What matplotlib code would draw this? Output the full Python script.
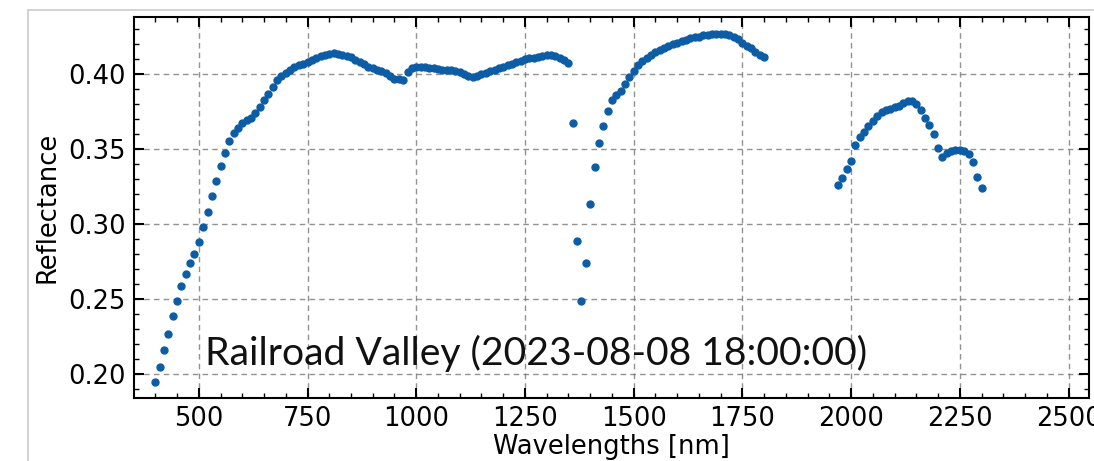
import numpy as np
import matplotlib
matplotlib.use("Agg")
import matplotlib.pyplot as plt
from matplotlib.lines import Line2D
from matplotlib.ticker import MultipleLocator

# Surface reflectance, 10 nm sampling (water-absorption bands omitted)
wl_vis_nir = np.arange(400, 1351, 10)
refl_vis_nir = [
    0.195, 0.205, 0.216, 0.227, 0.239, 0.249, 0.259, 0.267, 0.274, 0.280,
    0.288, 0.298, 0.308, 0.319, 0.329, 0.339, 0.3476, 0.3554, 0.3605, 0.3638,
    0.3671, 0.3693, 0.3705, 0.3738, 0.378, 0.3827, 0.387, 0.3915, 0.396, 0.399,
    0.401, 0.403, 0.4045, 0.406, 0.407, 0.408, 0.4095, 0.4105, 0.412, 0.4128,
    0.4133, 0.4137, 0.4135, 0.4128, 0.412, 0.4112, 0.4095, 0.408, 0.407, 0.405,
    0.404, 0.403, 0.402, 0.4005, 0.3985, 0.3965, 0.3964, 0.396, 0.4015, 0.4037,
    0.4045, 0.4048, 0.4045, 0.4042, 0.404, 0.4035, 0.403, 0.4027, 0.4025, 0.402,
    0.4015, 0.400, 0.399, 0.3982, 0.399, 0.400, 0.401, 0.402, 0.403, 0.404,
    0.405, 0.406, 0.407, 0.408, 0.409, 0.410, 0.4105, 0.411, 0.4115, 0.412,
    0.4125, 0.4126, 0.412, 0.411, 0.4095, 0.4073,
]

wl_swir1 = np.arange(1360, 1801, 10)
refl_swir1 = [
    0.3675, 0.289, 0.249, 0.274, 0.3134, 0.338, 0.3538, 0.3653, 0.3753, 0.3827,
    0.386, 0.389, 0.3935, 0.398, 0.402, 0.406, 0.409, 0.411, 0.413, 0.4145,
    0.416, 0.4175, 0.419, 0.420, 0.421, 0.422, 0.423, 0.4237, 0.4244, 0.425,
    0.4257, 0.4263, 0.4268, 0.427, 0.427, 0.4268, 0.4262, 0.425, 0.4231, 0.4205,
    0.4185, 0.4171, 0.415, 0.413, 0.4115,
]

wl_swir2 = np.arange(1970, 2301, 10)
refl_swir2 = [
    0.326, 0.331, 0.337, 0.342, 0.353, 0.358, 0.3616, 0.3655, 0.369, 0.372,
    0.3745, 0.3758, 0.377, 0.3778, 0.3787, 0.3805, 0.3818, 0.382, 0.380, 0.376,
    0.371, 0.366, 0.360, 0.351, 0.3445, 0.3472, 0.3487, 0.3492, 0.3492, 0.349,
    0.347, 0.3416, 0.3316, 0.324,
]

site_label = "Railroad Valley (2023-08-08 18:00:00)"
x_label = "Wavelengths [nm]"
y_label = "Reflectance"

wavelengths = np.concatenate([wl_vis_nir, wl_swir1, wl_swir2])
reflectance = np.concatenate([refl_vis_nir, refl_swir1, refl_swir2])

plt.rcParams["font.family"] = ["DejaVu Sans"]

fig = plt.figure(figsize=(10.94, 4.61), dpi=100)
ax = fig.add_axes([0.1229, 0.1367, 0.9954 - 0.1229, 0.9631 - 0.1367])

ax.plot(wavelengths, reflectance, "o", ls="none", ms=5.0, color="#0C5DA5",
        zorder=3)

ax.set_xlim(352, 2547)
ax.set_ylim(0.1842, 0.438)
ax.xaxis.set_major_locator(MultipleLocator(250))
ax.xaxis.set_minor_locator(MultipleLocator(50))
ax.yaxis.set_major_locator(MultipleLocator(0.05))
ax.yaxis.set_minor_locator(MultipleLocator(0.01))
ax.yaxis.set_major_formatter(plt.FormatStrFormatter("%.2f"))

ax.tick_params(which="both", direction="in", top=True, right=True,
               labelsize=18.5, colors="black")
ax.tick_params(which="major", length=7, width=1.5, pad=6)
ax.tick_params(which="minor", length=3.5, width=1.0)
for sp in ax.spines.values():
    sp.set_linewidth(1.5)

ax.grid(True, which="major", ls=(0, (4, 3)), color="#777777", lw=1.0,
        alpha=0.8)
ax.set_axisbelow(True)

ax.set_xlabel(x_label, fontsize=18.5, labelpad=1)
ax.set_ylabel(y_label, fontsize=18.5, labelpad=6)

ax.text(0.074, 0.087, site_label, transform=ax.transAxes, fontsize=28.2,
        family=["Lato", "DejaVu Sans"], va="baseline", ha="left",
        color="#111111")

# light frame around the figure canvas
fig.add_artist(Line2D([27.5 / 1094, 27.5 / 1094], [0, 1 - 10.5 / 461],
                      transform=fig.transFigure, color="#cccccc", lw=1.2))
fig.add_artist(Line2D([27.5 / 1094, 1], [1 - 10.5 / 461, 1 - 10.5 / 461],
                      transform=fig.transFigure, color="#cccccc", lw=1.2))

fig.savefig("out.png", dpi=100)
